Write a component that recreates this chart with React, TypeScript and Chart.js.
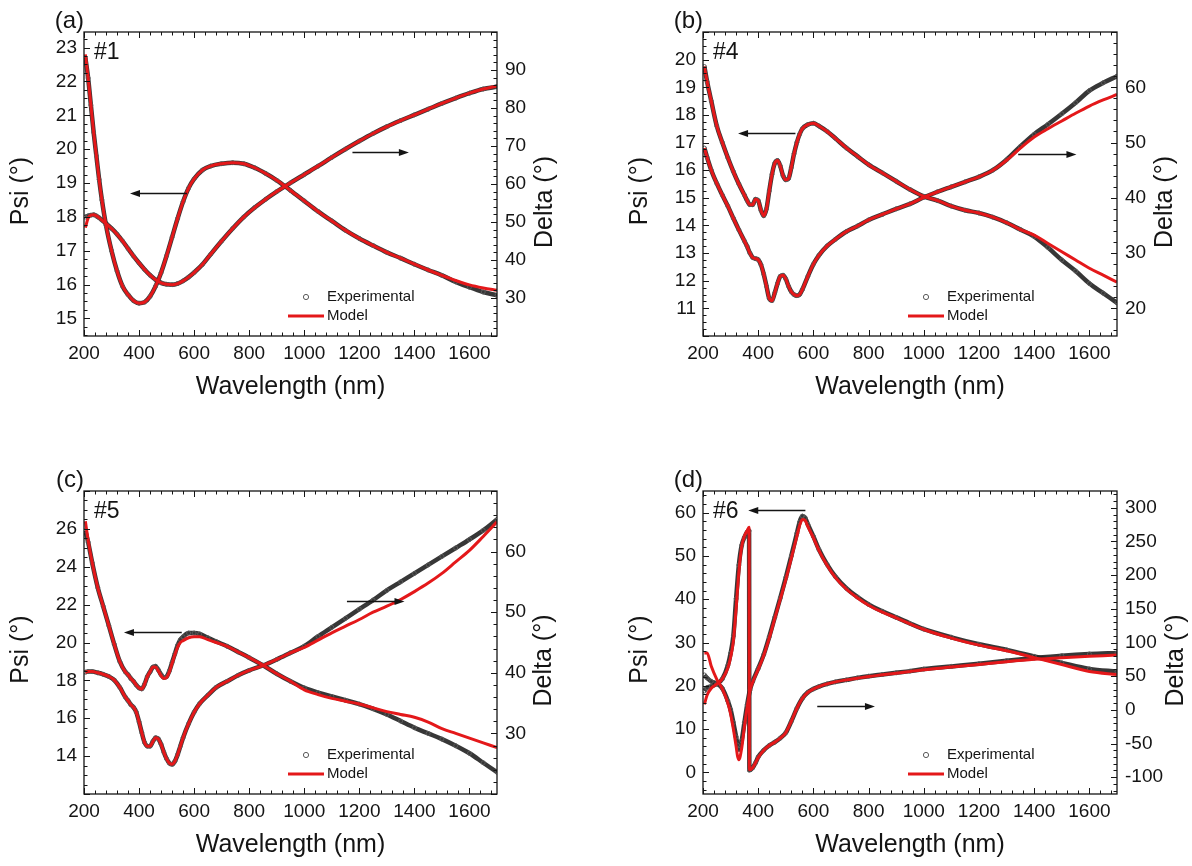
import React, { useEffect, useRef } from 'react';
import { Chart, registerables } from 'chart.js';

Chart.register(...registerables);

const FONT = 'Arial, "Liberation Sans", Helvetica, sans-serif';
const TEXT = '#141414';
const RED = 'rgb(228, 24, 26)';
const EXP_LINE = 'rgba(38, 38, 38, 0.92)';
const EXP_POINT = '#5a5a5a';

// ---------- shared tick labels ----------
const wavelengthTicks = [200, 400, 600, 800, 1000, 1200, 1400, 1600];

// ---------- panel (a) #1 ----------
const wlA = [205, 215, 225, 235, 245, 255, 265, 280, 300, 320, 340, 360, 380, 400, 420, 440, 460, 480, 500, 520, 540, 560, 580, 600, 630, 660, 700, 740, 780, 820, 860, 900, 950, 1000, 1050, 1100, 1150, 1200, 1250, 1300, 1350, 1400, 1450, 1500, 1550, 1600, 1650, 1700];
const psiModelA = [22.8, 22.1, 21.3, 20.5, 19.8, 19.1, 18.5, 17.75, 17.0, 16.4, 15.95, 15.7, 15.52, 15.45, 15.48, 15.65, 15.95, 16.35, 16.85, 17.4, 17.95, 18.45, 18.85, 19.12, 19.38, 19.5, 19.57, 19.6, 19.57, 19.45, 19.28, 19.08, 18.78, 18.47, 18.16, 17.88, 17.6, 17.36, 17.15, 16.95, 16.78, 16.6, 16.43, 16.27, 16.12, 15.99, 15.9, 15.83];
const psiExpA = [22.7, 22.1, 21.3, 20.5, 19.8, 19.1, 18.5, 17.75, 17.0, 16.4, 15.95, 15.7, 15.52, 15.45, 15.48, 15.65, 15.95, 16.35, 16.85, 17.4, 17.95, 18.45, 18.85, 19.12, 19.38, 19.5, 19.57, 19.6, 19.57, 19.45, 19.28, 19.08, 18.78, 18.47, 18.16, 17.88, 17.6, 17.36, 17.15, 16.95, 16.78, 16.6, 16.43, 16.27, 16.08, 15.92, 15.78, 15.68];
const deltaModelA = [48.5, 51.0, 51.8, 51.9, 51.6, 51.1, 50.5, 49.6, 48.3, 46.8, 45.0, 43.0, 41.0, 39.2, 37.5, 36.0, 34.8, 34.0, 33.6, 33.5, 33.8, 34.5, 35.5, 36.7, 38.8, 41.5, 45.0, 48.3, 51.3, 53.8, 56.0, 58.0, 60.3, 62.5, 64.7, 67.0, 69.2, 71.3, 73.3, 75.1, 76.7, 78.2, 79.7, 81.2, 82.6, 83.9, 85.0, 85.8];
const deltaExpA = [51.3, 51.6, 51.8, 51.9, 51.6, 51.1, 50.5, 49.6, 48.3, 46.8, 45.0, 43.0, 41.0, 39.2, 37.5, 36.0, 34.8, 34.0, 33.6, 33.5, 33.8, 34.5, 35.5, 36.7, 38.8, 41.5, 45.0, 48.3, 51.3, 53.8, 56.0, 58.0, 60.3, 62.5, 64.7, 67.0, 69.2, 71.3, 73.3, 75.1, 76.7, 78.2, 79.7, 81.2, 82.6, 83.9, 85.0, 85.6];
const psiTicksA = [15, 16, 17, 18, 19, 20, 21, 22, 23];
const deltaTicksA = [30, 40, 50, 60, 70, 80, 90];

// ---------- panel (b) #4 ----------
const wlB = [205, 215, 230, 250, 270, 290, 310, 330, 350, 360, 370, 380, 390, 400, 410, 420, 430, 440, 450, 460, 470, 480, 490, 500, 510, 520, 530, 540, 550, 560, 580, 600, 620, 650, 680, 720, 760, 800, 850, 900, 950, 1000, 1050, 1100, 1150, 1200, 1250, 1300, 1350, 1400, 1450, 1500, 1550, 1600, 1650, 1700];
const psiModelB = [19.75, 19.2, 18.5, 17.6, 17.0, 16.45, 15.95, 15.5, 15.1, 14.9, 14.75, 14.75, 14.95, 14.9, 14.55, 14.35, 14.6, 15.25, 15.85, 16.25, 16.35, 16.15, 15.8, 15.65, 15.7, 16.1, 16.6, 17.0, 17.3, 17.5, 17.65, 17.7, 17.6, 17.4, 17.15, 16.8, 16.5, 16.2, 15.9, 15.6, 15.3, 15.05, 14.9, 14.7, 14.55, 14.45, 14.3, 14.1, 13.85, 13.65, 13.35, 13.05, 12.75, 12.45, 12.2, 11.95];
const psiExpB = [19.75, 19.2, 18.5, 17.6, 17.0, 16.45, 15.95, 15.5, 15.1, 14.9, 14.75, 14.75, 14.95, 14.9, 14.55, 14.35, 14.6, 15.25, 15.85, 16.25, 16.35, 16.15, 15.8, 15.65, 15.7, 16.1, 16.6, 17.0, 17.3, 17.5, 17.65, 17.7, 17.6, 17.4, 17.15, 16.8, 16.5, 16.2, 15.9, 15.6, 15.3, 15.05, 14.9, 14.7, 14.55, 14.45, 14.3, 14.1, 13.85, 13.6, 13.2, 12.75, 12.35, 11.9, 11.55, 11.2];
const deltaModelB = [49.0, 47.3, 45.0, 42.6, 40.5, 38.5, 36.3, 34.2, 32.2, 31.2, 30.0, 29.2, 29.0, 28.8, 27.9, 26.2, 24.0, 21.8, 21.4, 22.8, 24.5, 25.8, 26.0, 25.3, 24.0, 23.0, 22.5, 22.3, 22.5, 23.4, 25.8, 28.0, 29.6, 31.3, 32.5, 33.9, 34.9, 36.0, 37.0, 38.0, 38.9, 40.1, 41.1, 42.0, 42.9, 43.8, 45.0, 46.8, 49.0, 51.0, 52.5, 53.9, 55.3, 56.6, 57.7, 58.7];
const deltaExpB = [49.0, 47.3, 45.0, 42.6, 40.5, 38.5, 36.3, 34.2, 32.2, 31.2, 30.0, 29.2, 29.0, 28.8, 27.9, 26.2, 24.0, 21.8, 21.4, 22.8, 24.5, 25.8, 26.0, 25.3, 24.0, 23.0, 22.5, 22.3, 22.5, 23.4, 25.8, 28.0, 29.6, 31.3, 32.5, 33.9, 34.9, 36.0, 37.0, 38.0, 38.9, 40.1, 41.1, 42.0, 42.9, 43.8, 45.0, 46.9, 49.3, 51.5, 53.3, 55.2, 57.2, 59.4, 60.8, 62.0];
const psiTicksB = [11, 12, 13, 14, 15, 16, 17, 18, 19, 20];
const deltaTicksB = [20, 30, 40, 50, 60];

// ---------- panel (c) #5 ----------
const wlC = [205, 215, 230, 250, 270, 290, 310, 330, 350, 360, 370, 380, 390, 400, 410, 420, 430, 440, 450, 460, 470, 480, 490, 500, 510, 520, 530, 540, 550, 560, 580, 600, 620, 650, 680, 720, 760, 800, 850, 900, 950, 1000, 1050, 1100, 1150, 1200, 1250, 1300, 1350, 1400, 1450, 1500, 1550, 1600, 1650, 1700];
const psiModelC = [26.4, 25.4, 24.2, 22.9, 21.9, 20.9, 19.9, 19.0, 18.45, 18.3, 18.1, 17.95, 17.75, 17.6, 17.55, 17.8, 18.2, 18.45, 18.7, 18.7, 18.5, 18.25, 18.1, 18.15, 18.45, 18.9, 19.35, 19.75, 20.0, 20.1, 20.25, 20.3, 20.3, 20.15, 20.0, 19.8, 19.5, 19.2, 18.8, 18.35, 17.95, 17.5, 17.25, 17.05, 16.9, 16.75, 16.55, 16.35, 16.2, 16.05, 15.8, 15.45, 15.2, 14.95, 14.7, 14.45];
const psiExpC = [25.9, 25.3, 24.2, 22.9, 21.9, 20.9, 19.9, 19.0, 18.45, 18.3, 18.1, 17.95, 17.75, 17.6, 17.55, 17.8, 18.2, 18.45, 18.7, 18.75, 18.55, 18.3, 18.15, 18.2, 18.5, 18.95, 19.4, 19.85, 20.15, 20.3, 20.5, 20.5, 20.45, 20.25, 20.05, 19.8, 19.5, 19.2, 18.8, 18.35, 17.95, 17.6, 17.35, 17.15, 16.95, 16.75, 16.5, 16.2, 15.85, 15.5, 15.2, 14.9, 14.55, 14.15, 13.65, 13.15];
const deltaModelC = [40.1, 40.2, 40.2, 40.0, 39.75, 39.4, 38.8, 37.6, 36.0, 35.4, 34.75, 34.3, 33.5, 31.9, 30.1, 28.5, 27.9, 27.9, 28.65, 29.3, 29.1, 28.2, 26.9, 25.8, 25.1, 24.9, 25.4, 26.5, 27.9, 29.3, 31.6, 33.5, 34.9, 36.3, 37.6, 38.6, 39.6, 40.4, 41.2, 42.2, 43.3, 44.2, 45.4, 46.6, 47.7, 48.8, 50.0, 51.0, 52.1, 53.4, 54.8, 56.4, 58.3, 60.2, 62.5, 64.9];
const deltaExpC = [40.1, 40.2, 40.2, 40.0, 39.75, 39.4, 38.8, 37.6, 36.0, 35.4, 34.75, 34.3, 33.5, 31.9, 30.1, 28.5, 27.9, 27.9, 28.65, 29.3, 29.1, 28.2, 26.9, 25.8, 25.1, 24.9, 25.4, 26.5, 27.9, 29.3, 31.6, 33.5, 34.9, 36.3, 37.6, 38.6, 39.6, 40.4, 41.2, 42.2, 43.3, 44.4, 46.0, 47.5, 49.0, 50.5, 52.0, 53.6, 55.0, 56.4, 57.8, 59.2, 60.6, 62.0, 63.5, 65.3];
const psiTicksC = [14, 16, 18, 20, 22, 24, 26];
const deltaTicksC = [30, 40, 50, 60];

// ---------- panel (d) #6 ----------
const wlPsiD = [205, 215, 230, 250, 270, 290, 300, 310, 320, 325, 330, 340, 350, 360, 370, 380, 400, 420, 440, 460, 480, 500, 520, 540, 550, 560, 570, 580, 600, 620, 650, 680, 720, 760, 800, 850, 900, 950, 1000, 1100, 1200, 1300, 1400, 1500, 1600, 1700];
const psiModelD = [27.5, 27.6, 24.5, 21.5, 19.3, 16.0, 13.5, 10.0, 6.0, 3.8, 2.9, 5.5, 10.5, 15.0, 18.8, 20.8, 23.8, 27.0, 31.0, 35.5, 40.0, 44.5, 49.5, 54.5, 57.0, 58.4, 58.2, 56.8, 54.2, 51.3, 47.8, 45.0, 42.3, 40.3, 38.6, 37.0, 35.7, 34.3, 33.0, 31.0, 29.4, 28.1, 26.5, 24.9, 23.3, 22.6];
const psiExpD = [22.5, 21.8, 21.0, 20.5, 19.4, 16.5, 14.5, 11.5, 8.2, 6.3, 5.3, 7.3, 11.5, 15.6, 19.0, 21.0, 24.0, 27.2, 31.3, 35.8, 40.3, 45.0, 50.0, 55.2, 57.8, 59.2, 58.8, 57.3, 54.5, 51.5, 48.0, 45.2, 42.5, 40.5, 38.8, 37.2, 35.8, 34.4, 33.1, 31.2, 29.6, 28.3, 26.8, 25.3, 23.9, 23.3];
const wlDeltaD = [205, 215, 230, 250, 270, 290, 300, 310, 320, 330, 340, 350, 360, 367, 368, 380, 390, 400, 420, 440, 460, 480, 500, 520, 540, 560, 580, 600, 620, 650, 680, 720, 760, 800, 850, 900, 950, 1000, 1100, 1200, 1300, 1400, 1500, 1600, 1700];
const deltaModelD = [8, 22, 32, 38.5, 46, 62, 78, 102, 150, 205, 242, 258, 266, 271, -89, -86, -79, -71, -60, -53, -48, -42, -34, -17, 2, 17, 26, 31, 34.5, 38.5, 41.5, 44.5, 47, 49.5, 52, 54.5, 57, 59.5, 63.5, 67.5, 71.5, 75, 77.5, 79.5, 81.5];
const deltaExpD = [28, 33, 35, 38.5, 46, 66, 84, 110, 165, 215, 244, 256, 264, 266, -89.5, -86, -79, -70, -60, -53, -48, -42, -34, -17, 2, 17, 26, 31, 34.5, 38.5, 41.5, 44.5, 47.5, 50, 52.5, 55, 57.5, 60.5, 64.5, 68.5, 73, 77, 80.5, 83, 84.5];
const psiTicksD = [0, 10, 20, 30, 40, 50, 60];
const deltaTicksD = [-100, -50, 0, 50, 100, 150, 200, 250, 300];

const zip = (xs: number[], ys: number[]) => xs.map((x, i) => ({ x, y: ys[i] }));

type Arrow = { axis: 'y' | 'y1'; from: number; to: number; value: number };
type Spec = {
  key: string;
  label: string;
  sample: string;
  canvas: { left: number; top: number; width: number; height: number };
  frame: { left: number; top: number; right: number; bottom: number };
  psi: { min: number; max: number; ticks: number[]; minor: number };
  delta: { min: number; max: number; ticks: number[]; minor: number };
  psiX: number[];
  psiModel: number[];
  psiExp: number[];
  deltaX: number[];
  deltaModel: number[];
  deltaExp: number[];
  arrows: Arrow[];
  deltaTitleOffset: number;
};

const panels: Spec[] = [
  {
    key: 'a', label: '(a)', sample: '#1',
    canvas: { left: 0, top: 0, width: 596, height: 430 },
    frame: { left: 84, top: 32, right: 497, bottom: 336 },
    psi: { min: 14.48, max: 23.46, ticks: psiTicksA, minor: 4 },
    delta: { min: 20, max: 100, ticks: deltaTicksA, minor: 5 },
    psiX: wlA, psiModel: psiModelA, psiExp: psiExpA,
    deltaX: wlA, deltaModel: deltaModelA, deltaExp: deltaExpA,
    arrows: [
      { axis: 'y', from: 574, to: 367, value: 18.7 },
      { axis: 'y1', from: 1175, to: 1380, value: 68.3 },
    ],
    deltaTitleOffset: 48,
  },
  {
    key: 'b', label: '(b)', sample: '#4',
    canvas: { left: 596, top: 0, width: 596, height: 430 },
    frame: { left: 703, top: 32, right: 1117, bottom: 336 },
    psi: { min: 10, max: 21, ticks: psiTicksB, minor: 4 },
    delta: { min: 15, max: 70, ticks: deltaTicksB, minor: 5 },
    psiX: wlB, psiModel: psiModelB, psiExp: psiExpB,
    deltaX: wlB, deltaModel: deltaModelB, deltaExp: deltaExpB,
    arrows: [
      { axis: 'y', from: 535, to: 327, value: 17.35 },
      { axis: 'y1', from: 1342, to: 1553, value: 47.9 },
    ],
    deltaTitleOffset: 48,
  },
  {
    key: 'c', label: '(c)', sample: '#5',
    canvas: { left: 0, top: 430, width: 596, height: 436 },
    frame: { left: 84, top: 491, right: 497, bottom: 794 },
    psi: { min: 12, max: 28, ticks: psiTicksC, minor: 4 },
    delta: { min: 20, max: 70, ticks: deltaTicksC, minor: 5 },
    psiX: wlC, psiModel: psiModelC, psiExp: psiExpC,
    deltaX: wlC, deltaModel: deltaModelC, deltaExp: deltaExpC,
    arrows: [
      { axis: 'y', from: 555, to: 345, value: 20.58 },
      { axis: 'y1', from: 1155, to: 1364, value: 51.9 },
    ],
    deltaTitleOffset: 47,
  },
  {
    key: 'd', label: '(d)', sample: '#6',
    canvas: { left: 596, top: 430, width: 596, height: 436 },
    frame: { left: 703, top: 491, right: 1117, bottom: 794 },
    psi: { min: -5, max: 65, ticks: psiTicksD, minor: 5 },
    delta: { min: -125, max: 325, ticks: deltaTicksD, minor: 5 },
    psiX: wlPsiD, psiModel: psiModelD, psiExp: psiExpD,
    deltaX: wlDeltaD, deltaModel: deltaModelD, deltaExp: deltaExpD,
    arrows: [
      { axis: 'y', from: 571, to: 364, value: 60.6 },
      { axis: 'y1', from: 614, to: 823, value: 5.9 },
    ],
    deltaTitleOffset: 59,
  },
];

function tickMarks(major: number[], div: number, min: number, max: number) {
  const step = major[1] - major[0];
  const sub = step / div;
  const kMin = Math.ceil((min - major[0]) / sub - 1e-6);
  const kMax = Math.floor((max - major[0]) / sub + 1e-6);
  const out: { v: number; major: boolean }[] = [];
  for (let k = kMin; k <= kMax; k++) {
    out.push({ v: major[0] + k * sub, major: ((k % div) + div) % div === 0 });
  }
  return out;
}

function makeDecor(spec: Spec) {
  return {
    id: 'decor',
    afterDraw(chart: any) {
      const { ctx, chartArea: ca } = chart;
      const sx = chart.scales.x;
      const sy = chart.scales.y;
      const sy1 = chart.scales.y1;
      ctx.save();
      ctx.strokeStyle = TEXT;
      ctx.fillStyle = TEXT;
      const line = (x1: number, y1: number, x2: number, y2: number) => {
        ctx.beginPath();
        ctx.moveTo(x1, y1);
        ctx.lineTo(x2, y2);
        ctx.stroke();
      };
      const MAJ = 6;
      const MIN = 3.5;
      ctx.lineWidth = 1;
      for (const t of tickMarks(wavelengthTicks, 5, 200, 1700)) {
        const px = Math.round(sx.getPixelForValue(t.v)) + 0.5;
        const L = t.major ? MAJ : MIN;
        line(px, ca.bottom, px, ca.bottom - L);
        line(px, ca.top, px, ca.top + L);
      }
      for (const t of tickMarks(spec.psi.ticks, spec.psi.minor, spec.psi.min, spec.psi.max)) {
        const py = Math.round(sy.getPixelForValue(t.v)) + 0.5;
        line(ca.left, py, ca.left + (t.major ? MAJ : MIN), py);
      }
      for (const t of tickMarks(spec.delta.ticks, spec.delta.minor, spec.delta.min, spec.delta.max)) {
        const py = Math.round(sy1.getPixelForValue(t.v)) + 0.5;
        line(ca.right, py, ca.right - (t.major ? MAJ : MIN), py);
      }
      // frame
      ctx.lineWidth = 1.3;
      ctx.strokeRect(ca.left, ca.top, ca.right - ca.left, ca.bottom - ca.top);

      // y titles
      const cy = (ca.top + ca.bottom) / 2;
      ctx.font = `25px ${FONT}`;
      ctx.textAlign = 'center';
      ctx.textBaseline = 'middle';
      ctx.save();
      ctx.translate(ca.left - 63, cy + 7);
      ctx.rotate(-Math.PI / 2);
      ctx.fillText('Psi (°)', 0, 0);
      ctx.restore();
      ctx.save();
      ctx.translate(ca.right + spec.deltaTitleOffset, cy + 18);
      ctx.rotate(-Math.PI / 2);
      ctx.fillText('Delta (°)', 0, 0);
      ctx.restore();

      // panel label and sample name
      ctx.font = `24px ${FONT}`;
      ctx.textAlign = 'right';
      ctx.fillText(spec.label, ca.left, ca.top - 11);
      ctx.font = `23px ${FONT}`;
      ctx.textAlign = 'left';
      ctx.fillText(spec.sample, ca.left + 10, ca.top + 21);

      // arrows
      ctx.lineWidth = 1.5;
      for (const a of spec.arrows) {
        const sc = a.axis === 'y' ? sy : sy1;
        const x0 = sx.getPixelForValue(a.from);
        const x1 = sx.getPixelForValue(a.to);
        const y = Math.round(sc.getPixelForValue(a.value)) + 0.5;
        const dir = Math.sign(x1 - x0);
        const head = 10;
        const hw = 3.5;
        line(x0, y, x1 - dir * head * 0.7, y);
        ctx.beginPath();
        ctx.moveTo(x1, y);
        ctx.lineTo(x1 - dir * head, y - hw);
        ctx.lineTo(x1 - dir * head, y + hw);
        ctx.closePath();
        ctx.fill();
      }

      // legend
      const ly1 = ca.bottom - 39;
      const ly2 = ca.bottom - 20;
      ctx.lineWidth = 1;
      ctx.strokeStyle = EXP_POINT;
      ctx.beginPath();
      ctx.arc(ca.right - 191, ly1, 2.6, 0, Math.PI * 2);
      ctx.stroke();
      ctx.strokeStyle = RED;
      ctx.lineWidth = 3;
      line(ca.right - 209, ly2, ca.right - 173, ly2);
      ctx.fillStyle = TEXT;
      ctx.font = `15px ${FONT}`;
      ctx.textAlign = 'left';
      ctx.textBaseline = 'middle';
      ctx.fillText('Experimental', ca.right - 170, ly1);
      ctx.fillText('Model', ca.right - 170, ly2);
      ctx.restore();
    },
  };
}

function buildConfig(spec: Spec): any {
  const { canvas, frame } = spec;
  const frameBottomRel = frame.bottom - canvas.top;
  const xAxisHeight = canvas.height - frameBottomRel;
  const titlePadBottom = Math.max(0, canvas.height - (frameBottomRel + 51) - 15);
  const tickFont = { size: 19, family: FONT };
  const label = (v: any) => String(v);

  const modelCommon = {
    borderColor: RED,
    backgroundColor: RED,
    borderWidth: 3,
    pointRadius: 0,
    fill: false,
    cubicInterpolationMode: 'monotone',
    order: 1,
  };
  const expCommon = {
    borderColor: EXP_LINE,
    backgroundColor: 'rgba(0,0,0,0)',
    borderWidth: 4.5,
    pointRadius: 2,
    pointBorderWidth: 1,
    pointBorderColor: EXP_POINT,
    pointBackgroundColor: 'rgba(255,255,255,0)',
    fill: false,
    cubicInterpolationMode: 'monotone',
    order: 2,
  };

  return {
    type: 'line',
    data: {
      datasets: [
        { label: 'Model Psi', data: zip(spec.psiX, spec.psiModel), yAxisID: 'y', ...modelCommon },
        { label: 'Model Delta', data: zip(spec.deltaX, spec.deltaModel), yAxisID: 'y1', ...modelCommon },
        { label: 'Experimental Psi', data: zip(spec.psiX, spec.psiExp), yAxisID: 'y', ...expCommon },
        { label: 'Experimental Delta', data: zip(spec.deltaX, spec.deltaExp), yAxisID: 'y1', ...expCommon },
      ],
    },
    options: {
      responsive: false,
      maintainAspectRatio: false,
      animation: false,
      events: [],
      layout: { padding: { top: frame.top - canvas.top, left: 0, right: 0, bottom: 0 } },
      plugins: { legend: { display: false }, tooltip: { enabled: false } },
      scales: {
        x: {
          type: 'linear',
          position: 'bottom',
          min: 200,
          max: 1700,
          grid: { display: false, drawTicks: false },
          border: { display: false },
          ticks: { font: tickFont, color: TEXT, padding: 6, maxRotation: 0, autoSkip: false, callback: label },
          afterBuildTicks: (s: any) => {
            s.ticks = wavelengthTicks.map((value) => ({ value }));
          },
          afterFit: (s: any) => {
            s.height = xAxisHeight;
          },
          title: {
            display: true,
            text: 'Wavelength (nm)',
            color: TEXT,
            font: { size: 25, family: FONT },
            padding: { top: 0, bottom: titlePadBottom },
          },
        },
        y: {
          type: 'linear',
          position: 'left',
          min: spec.psi.min,
          max: spec.psi.max,
          grid: { display: false, drawTicks: false },
          border: { display: false },
          ticks: { font: tickFont, color: TEXT, padding: 7, autoSkip: false, callback: label },
          afterBuildTicks: (s: any) => {
            s.ticks = spec.psi.ticks.map((value) => ({ value }));
          },
          afterFit: (s: any) => {
            s.width = frame.left - canvas.left;
          },
        },
        y1: {
          type: 'linear',
          position: 'right',
          min: spec.delta.min,
          max: spec.delta.max,
          grid: { display: false, drawTicks: false },
          border: { display: false },
          ticks: { font: tickFont, color: TEXT, padding: 8, autoSkip: false, callback: label },
          afterBuildTicks: (s: any) => {
            s.ticks = spec.delta.ticks.map((value) => ({ value }));
          },
          afterFit: (s: any) => {
            s.width = canvas.left + canvas.width - frame.right;
          },
        },
      },
    },
    plugins: [makeDecor(spec)],
  };
}

function Panel({ spec }: { spec: Spec }) {
  const ref = useRef<HTMLCanvasElement>(null);
  useEffect(() => {
    if (!ref.current) return;
    const chart = new Chart(ref.current, buildConfig(spec));
    return () => chart.destroy();
  }, [spec]);
  const { left, top, width, height } = spec.canvas;
  return (
    <canvas
      ref={ref}
      width={width}
      height={height}
      style={{ position: 'absolute', left, top, width, height }}
    />
  );
}

export default function App() {
  return (
    <div
      style={{
        position: 'absolute',
        left: 0,
        top: 0,
        width: 1192,
        height: 866,
        background: '#ffffff',
        overflow: 'hidden',
      }}
    >
      {panels.map((p) => (
        <Panel key={p.key} spec={p} />
      ))}
    </div>
  );
}
